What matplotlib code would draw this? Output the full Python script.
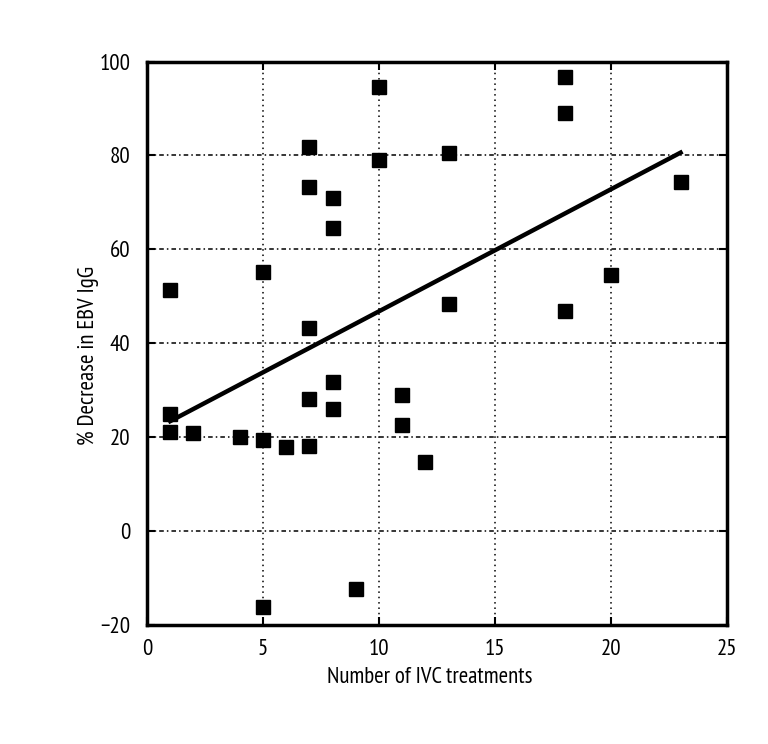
import matplotlib
matplotlib.use("Agg")
import matplotlib.pyplot as plt

plt.rcParams['font.family'] = ['PT Sans Narrow', 'Fira Sans Condensed', 'DejaVu Sans']

# number of IVC treatments per patient
treatments = [1, 1, 1, 2, 4, 5, 5, 5, 6, 7, 7, 7, 7, 7, 8, 8, 8, 8, 9,
              10, 10, 11, 11, 12, 13, 13, 18, 18, 18, 20, 23]
# % decrease in EBV IgG
decrease = [51.3, 24.9, 21.1, 20.9, 20.0, 55.1, 19.4, -16.2, 17.9, 81.7, 73.2,
            43.2, 28.1, 18.1, 70.9, 64.5, 31.7, 26.0, -12.3, 94.5, 79.1, 28.9,
            22.6, 14.7, 80.6, 48.3, 96.6, 89.1, 46.8, 54.5, 74.3]

# regression line as drawn in the figure
fit_x = [1, 23]
fit_y = [23.4, 80.6]

xticks = [0, 5, 10, 15, 20, 25]
yticks = [-20, 0, 20, 40, 60, 80, 100]
ytick_labels = ['\u221220', '0', '20', '40', '60', '80', '100']

fig = plt.figure(figsize=(7.68, 7.44), dpi=100)
ax = fig.add_axes([0.1914, 0.16, 0.7552, 0.7573])

ax.plot(treatments, decrease, 's', color='black', markersize=10.5, zorder=3)
ax.plot(fit_x, fit_y, color='black', linewidth=3.2, zorder=4)

ax.set_xlim(0, 25)
ax.set_ylim(-20, 100)
ax.set_xticks(xticks)
ax.set_yticks(yticks)
ax.set_yticklabels(ytick_labels)
ax.xaxis.grid(True, linestyle=(0, (1, 2.5)), color='black', linewidth=1.1)
ax.yaxis.grid(True, linestyle=(0, (3, 2, 1, 2)), color='black', linewidth=1.1)
ax.tick_params(direction='in', length=6, width=1.5, top=True, right=True,
               labelsize=16.5)
ax.tick_params(axis='x', pad=10)
ax.tick_params(axis='y', pad=12)
for s in ax.spines.values():
    s.set_linewidth(2.5)

ax.set_xlabel('Number of IVC treatments', fontsize=16.5, labelpad=5)
ax.set_ylabel('% Decrease in EBV IgG', fontsize=16.5, labelpad=0)
ax.xaxis.label.set_x(0.488)
ax.yaxis.label.set_y(0.478)

fig.savefig('out.png', dpi=100)
